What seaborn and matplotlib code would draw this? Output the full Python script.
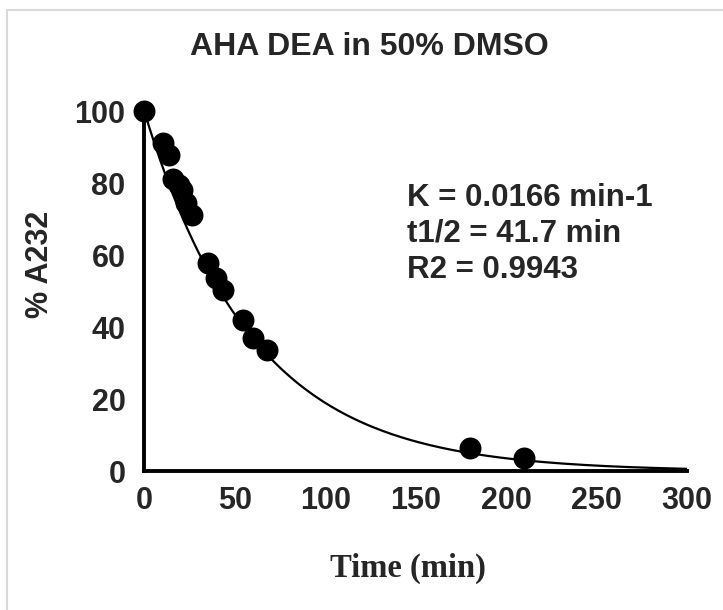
import numpy as np
import pandas as pd
import matplotlib
matplotlib.use("Agg")
import matplotlib.pyplot as plt
import seaborn as sns
from matplotlib.lines import Line2D

# ---- data ----
time_min = [0, 10.4, 13.4, 15.6, 19.2, 21.1, 22.9, 26.2, 35.2, 39.5, 43.7,
            54.7, 60.0, 67.6, 180, 210]
pct_a232 = [100, 91.1, 87.9, 81.1, 79.5, 78.1, 74.4, 71.2, 57.8, 53.6, 50.4,
            42.0, 36.9, 33.7, 6.4, 3.6]
k_rate = 0.0166
fit_t = np.linspace(0, 300, 301)
x_ticks = [0, 50, 100, 150, 200, 250, 300]
y_ticks = [0, 20, 40, 60, 80, 100]
title = "AHA DEA in 50% DMSO"
annot = ["K = 0.0166 min-1", "t1/2 = 41.7 min", "R2 = 0.9943"]

df = pd.DataFrame({"t": time_min, "y": pct_a232})
fit = pd.DataFrame({"t": fit_t, "y": 100 * np.exp(-k_rate * fit_t)})

sns.set_theme(style="white")
plt.rcParams["font.family"] = ["Liberation Sans", "DejaVu Sans"]

W, H = 723, 610
fig = plt.figure(figsize=(W / 100, H / 100), dpi=100)
ax_l, ax_r, ax_b, ax_t = 144.3, 687.0, 471.3, 111.3
ax = fig.add_axes([ax_l / W, 1 - ax_b / H, (ax_r - ax_l) / W, (ax_b - ax_t) / H])

sns.lineplot(data=fit, x="t", y="y", ax=ax, color="black", linewidth=1.6)
sns.scatterplot(data=df, x="t", y="y", ax=ax, color="black", s=250,
                edgecolor="black", linewidth=0, zorder=5, clip_on=False)

ax.set_xlim(0, 300)
ax.set_ylim(0, 100)
ax.set_xticks(x_ticks)
ax.set_yticks(y_ticks)
for s in ["top", "right"]:
    ax.spines[s].set_visible(False)
for s in ["left", "bottom"]:
    ax.spines[s].set_linewidth(2.8)
    ax.spines[s].set_color("black")
ax.tick_params(axis="both", which="major", direction="out", length=3.5, width=2.8,
               color="black", labelsize=22)
for lab in ax.get_xticklabels() + ax.get_yticklabels():
    lab.set_fontweight("bold")
ax.xaxis.set_tick_params(pad=7)
ax.yaxis.set_tick_params(pad=10)

ax.set_xlabel("Time (min)", fontsize=23.5, fontweight="bold",
              family=["Liberation Serif", "DejaVu Serif"])
ax.xaxis.label.set_va("center")
ax.xaxis.set_label_coords((408 - ax_l) / (ax_r - ax_l), (ax_b - 568) / (ax_b - ax_t))
ax.set_ylabel("% A232", fontsize=22, fontweight="bold")
ax.yaxis.label.set_va("center")
ax.yaxis.set_label_coords((40 - ax_l) / (ax_r - ax_l), (ax_b - 264) / (ax_b - ax_t))

fig.text(369 / W, 1 - 47 / H, title, ha="center", va="center", fontsize=23,
         fontweight="bold")
for i, line in enumerate(annot):
    fig.text(407 / W, 1 - (198 + 36 * i) / H, line, ha="left", va="center",
             fontsize=22.5, fontweight="bold")

# light grey frame (top and left edges visible)
fig.add_artist(Line2D([7 / W, 1.0], [1 - 10 / H, 1 - 10 / H], transform=fig.transFigure,
                      color="#d9d9d9", linewidth=1.5))
fig.add_artist(Line2D([7 / W, 7 / W], [1 - 10 / H, 0.0], transform=fig.transFigure,
                      color="#d9d9d9", linewidth=1.5))

fig.savefig("out.png", dpi=100)
